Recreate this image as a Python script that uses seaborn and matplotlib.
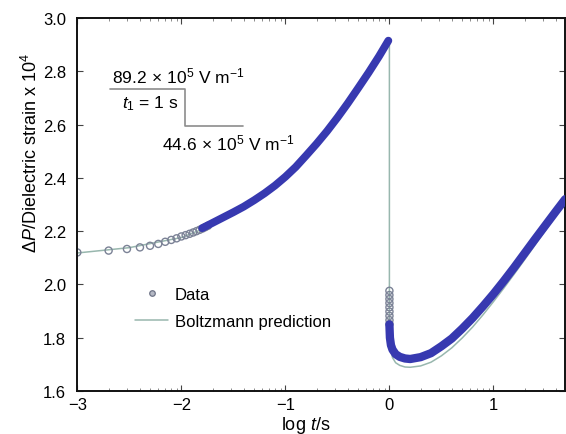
import numpy as np
import pandas as pd
import matplotlib
matplotlib.use("Agg")
import matplotlib.pyplot as plt
from matplotlib.lines import Line2D
from matplotlib.ticker import FixedLocator
import seaborn as sns

# ---- data -------------------------------------------------------------
# early, individually resolved readings (t in seconds) during the first field step
early_t = [0.001, 0.002, 0.003, 0.004, 0.005, 0.006, 0.007, 0.008, 0.009,
           0.010, 0.011, 0.012, 0.013, 0.014, 0.015, 0.016, 0.017, 0.018]
early_strain = [2.120, 2.127, 2.133, 2.139, 2.145, 2.152, 2.160, 2.167, 2.173,
                2.180, 2.185, 2.190, 2.195, 2.200, 2.205, 2.210, 2.215, 2.220]

# dense recording, first step (log t)
step1_logt = [-1.80, -1.70, -1.60, -1.50, -1.40, -1.30, -1.20, -1.10, -1.00,
              -0.90, -0.80, -0.70, -0.60, -0.50, -0.40, -0.30, -0.20, -0.10, -0.01]
step1_strain = [2.211, 2.231, 2.251, 2.271, 2.292, 2.316, 2.342, 2.371, 2.404,
                2.441, 2.484, 2.528, 2.575, 2.626, 2.680, 2.737, 2.795, 2.856, 2.915]

# readings right after the field drop at t1 = 1 s
drop_t = [1.0002, 1.0004, 1.0006, 1.0008, 1.0010, 1.0012, 1.0014, 1.0016, 1.0018]
drop_strain = [1.976, 1.960, 1.945, 1.930, 1.914, 1.898, 1.882, 1.866, 1.851]

# dense recording, second step (log t)
step2_logt = [0.000, 0.005, 0.015, 0.030, 0.060, 0.100, 0.150, 0.200, 0.300,
              0.400, 0.500, 0.600, 0.700, 0.800, 0.900, 1.000, 1.100, 1.200,
              1.300, 1.400, 1.500, 1.600, 1.690]
step2_strain = [1.850, 1.800, 1.772, 1.755, 1.738, 1.728, 1.722, 1.720, 1.727,
                1.742, 1.768, 1.797, 1.834, 1.874, 1.918, 1.964, 2.013, 2.064,
                2.117, 2.170, 2.222, 2.274, 2.320]

# Boltzmann superposition prediction
model_logt = [-3.00, -2.50, -2.00, -1.80, -1.60, -1.40, -1.20, -1.00, -0.80,
              -0.60, -0.40, -0.20, -0.10, 0.00,
              0.00, 0.010, 0.030, 0.060, 0.100, 0.150, 0.200, 0.300, 0.400,
              0.500, 0.600, 0.700, 0.800, 0.900, 1.000, 1.100, 1.200, 1.300,
              1.400, 1.500, 1.600, 1.690]
model_strain = [2.118, 2.138, 2.176, 2.207, 2.247, 2.288, 2.338, 2.400, 2.480,
                2.571, 2.676, 2.791, 2.852, 2.918,
                1.800, 1.760, 1.725, 1.706, 1.696, 1.690, 1.689, 1.694, 1.708,
                1.732, 1.762, 1.799, 1.840, 1.886, 1.935, 1.986, 2.039, 2.093,
                2.148, 2.203, 2.257, 2.305]

xticks = [-3, -2, -1, 0, 1]
yticks = [1.6, 1.8, 2.0, 2.2, 2.4, 2.6, 2.8, 3.0]

# ---- style ------------------------------------------------------------
sns.set_style("ticks")
plt.rcParams["font.family"] = ["Liberation Sans", "DejaVu Sans"]
plt.rcParams["mathtext.fontset"] = "custom"
plt.rcParams["mathtext.rm"] = "Liberation Sans"
plt.rcParams["mathtext.it"] = "Liberation Sans:italic"
plt.rcParams["mathtext.bf"] = "Liberation Sans:bold"
for key in ("text.color", "axes.labelcolor", "xtick.labelcolor", "ytick.labelcolor"):
    plt.rcParams[key] = "black"

BLUE = "#3739b0"
CIRCLE = "#7b8296"
MODEL = "#98b7ae"
FS = 12

fig = plt.figure(figsize=(5.66, 4.35), dpi=100)
ax = fig.add_axes([0.1366, 0.0989, 0.8620, 0.8574])

df_early = pd.DataFrame({"logt": np.log10(early_t), "strain": early_strain})
df_drop = pd.DataFrame({"logt": np.log10(drop_t), "strain": drop_strain})
df_s1 = pd.DataFrame({"logt": step1_logt, "strain": step1_strain})
df_s2 = pd.DataFrame({"logt": step2_logt, "strain": step2_strain})
df_model = pd.DataFrame({"logt": model_logt, "strain": model_strain})

# dense data bands
sns.lineplot(data=df_s1, x="logt", y="strain", ax=ax, color=BLUE, lw=5.6,
             sort=False, estimator=None, solid_capstyle="round",
             solid_joinstyle="round", zorder=3)
sns.lineplot(data=df_s2, x="logt", y="strain", ax=ax, color=BLUE, lw=6.0,
             sort=False, estimator=None, solid_capstyle="round",
             solid_joinstyle="round", zorder=3)

# model curve
sns.lineplot(data=df_model, x="logt", y="strain", ax=ax, color=MODEL, lw=1.1,
             sort=False, estimator=None, zorder=2)

# individually resolved open circles
sns.scatterplot(data=df_early, x="logt", y="strain", ax=ax, marker="o", s=26,
                facecolor="none", edgecolor=CIRCLE, linewidth=1.0, zorder=2.5)
sns.scatterplot(data=df_drop, x="logt", y="strain", ax=ax, marker="o", s=26,
                facecolor="none", edgecolor=CIRCLE, linewidth=1.0, zorder=2.5)

# ---- axes -------------------------------------------------------------
ax.set_xlim(-3, 1.69)
ax.set_ylim(1.6, 3.0)
ax.set_xticks(xticks)
ax.set_xticklabels([f"{v:d}".replace("-", "\u2212") for v in xticks])
ax.set_yticks(yticks)
ax.set_yticklabels([f"{v:.1f}" for v in yticks])
minor = [d + np.log10(k) for d in range(-3, 2) for k in range(2, 10)]
ax.xaxis.set_minor_locator(FixedLocator(minor))

ax.tick_params(axis="both", which="major", direction="in", length=4.5, width=0.8,
               top=True, right=True, labelsize=FS, color="#444444")
ax.tick_params(axis="x", which="minor", direction="in", length=2.5, width=0.6,
               top=True, color="#777777")
ax.tick_params(axis="y", which="major", pad=8)
ax.tick_params(axis="x", which="major", pad=4)
for sp in ax.spines.values():
    sp.set_linewidth(1.4)
    sp.set_color("#111111")

ax.set_xlabel(r"log $\mathit{t}$/s", fontsize=13)
ax.set_ylabel(r"$\Delta\mathit{P}$/Dielectric strain x 10$^4$", fontsize=13)
ax.xaxis.set_label_coords(0.469, -0.062)
ax.yaxis.set_label_coords(-0.075, 0.641)

# ---- legend -----------------------------------------------------------
handles = [
    Line2D([], [], ls="none", marker="o", ms=4, mfc="#b4b8c4", mec="#6f7588", mew=0.9),
    Line2D([], [], color=MODEL, lw=1.1),
]
ax.legend(handles, ["Data", "Boltzmann prediction"], loc="upper left",
          bbox_to_anchor=(0.118, 0.28), frameon=False, fontsize=FS,
          handlelength=2.0, handletextpad=0.4, labelspacing=0.75,
          borderpad=0, borderaxespad=0)

# ---- field-step schematic --------------------------------------------
STEP = "#8c8c8c"
ax.plot([0.067, 0.2208, 0.2208, 0.3397], [0.8097, 0.8097, 0.7113, 0.7113],
        transform=ax.transAxes, color=STEP, lw=1.2, zorder=4)
ax.text(0.0705, 0.8271, r"89.2$\,\times\,$10$^5$ V m$^{-1}$", transform=ax.transAxes,
        fontsize=12.5, va="baseline", ha="left")
ax.text(0.091, 0.7606, r"$\mathit{t}_1$ = 1 s", transform=ax.transAxes,
        fontsize=12.5, va="baseline", ha="left")
ax.text(0.1731, 0.6488, r"44.6$\,\times\,$10$^5$ V m$^{-1}$", transform=ax.transAxes,
        fontsize=12.5, va="baseline", ha="left")

fig.savefig("out.png", dpi=100)
